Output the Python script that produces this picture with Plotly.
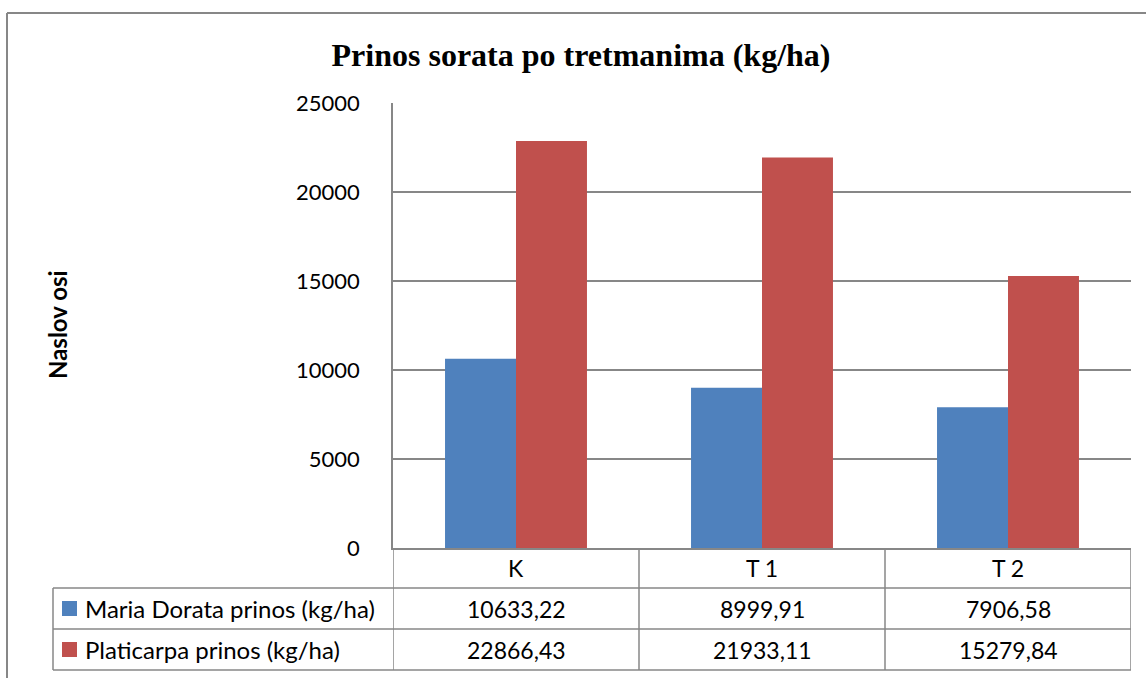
import plotly.graph_objects as go

# data
categories = ["K", "T 1", "T 2"]
series_names = ["Maria Dorata prinos (kg/ha)", "Platicarpa prinos (kg/ha)"]
maria_dorata = [10633.22, 8999.91, 7906.58]
platicarpa = [22866.43, 21933.11, 15279.84]
series_values = [maria_dorata, platicarpa]
colors = ["#4F81BD", "#C0504D"]

W, H = 1146, 678
# plot area edges in pixels
L, R, T, B = 393, 1131, 103, 548
GRID = "#878787"
FONT = "Lato, Calibri, sans-serif"


def px(x):
    return (x - L) / (R - L)


def py(y):
    return (B - y) / (B - T)


fig = go.Figure()
for name, vals, col in zip(series_names, series_values, colors):
    fig.add_trace(go.Bar(x=categories, y=vals, name=name, marker_color=col,
                         marker_line_width=0))

shapes = []
annotations = []

# outer chart border (top and left only, the rest is cut off)
shapes.append(dict(type="line", xref="paper", yref="paper", x0=px(7), x1=px(W + 5),
                   y0=py(13), y1=py(13), line=dict(color=GRID, width=2)))
shapes.append(dict(type="line", xref="paper", yref="paper", x0=px(7), x1=px(7),
                   y0=py(13), y1=py(H + 5), line=dict(color=GRID, width=2)))

# data table below the chart
row_lines = [588, 629, 670]
for yy in row_lines:
    shapes.append(dict(type="line", xref="paper", yref="paper", x0=px(53), x1=1,
                       y0=py(yy), y1=py(yy), line=dict(color=GRID, width=1.5)))
shapes.append(dict(type="line", xref="paper", yref="paper", x0=px(53), x1=px(53),
                   y0=py(588), y1=py(670), line=dict(color=GRID, width=1.5)))
for i in range(len(categories) + 1):
    shapes.append(dict(type="line", xref="x", yref="paper", x0=i - 0.5, x1=i - 0.5,
                       y0=0, y1=py(670), line=dict(color=GRID, width=1.5)))

# category header row
for i, c in enumerate(categories):
    annotations.append(dict(x=c, y=py(568), xref="x", yref="paper", text=c, yanchor="middle",
                            showarrow=False, font=dict(family=FONT, size=23, color="black")))

# series rows
row_centers = [608.5, 649.5]
for name, vals, col, yc in zip(series_names, series_values, colors, row_centers):
    shapes.append(dict(type="rect", xref="paper", yref="paper", x0=px(62), x1=px(77),
                       y0=py(yc - 7.5), y1=py(yc + 7.5), fillcolor=col, line_width=0))
    annotations.append(dict(x=px(83), y=py(yc), xref="paper", yref="paper", text=name,
                            xanchor="left", yanchor="middle", showarrow=False,
                            font=dict(family=FONT, size=24, color="black")))
    for c, v in zip(categories, vals):
        annotations.append(dict(x=c, y=py(yc), xref="x", yref="paper", yanchor="middle",
                                text=f"{v:.2f}".replace(".", ","), showarrow=False,
                                font=dict(family=FONT, size=23, color="black")))

# y axis title
annotations.append(dict(x=px(57), y=py(325), xref="paper", yref="paper", text="<b>Naslov osi</b>",
                        textangle=-90, showarrow=False, xanchor="center", yanchor="middle",
                        font=dict(family=FONT, size=24, color="black")))

fig.update_layout(
    width=W,
    height=H,
    autosize=False,
    margin=dict(l=L, r=W - R, t=T, b=H - B, pad=0),
    paper_bgcolor="white",
    plot_bgcolor="white",
    showlegend=False,
    bargap=0.423,
    bargroupgap=0,
    barmode="group",
    title=dict(text="<b>Prinos sorata po tretmanima (kg/ha)</b>", x=581 / W, xanchor="center",
               y=1 - 55 / H, yanchor="middle",
               font=dict(family="Liberation Serif, Times New Roman, serif", size=32, color="black")),
    shapes=shapes,
    annotations=annotations,
)
fig.update_xaxes(type="category", range=[-0.5, 2.5], showticklabels=False, showgrid=False,
                 showline=True, linecolor=GRID, linewidth=1.5, ticks="", zeroline=False)
fig.update_yaxes(range=[0, 25000], dtick=5000, showgrid=True, gridcolor=GRID, gridwidth=1.5,
                 showline=True, linecolor=GRID, linewidth=1.5, ticks="", zeroline=False,
                 ticklabelstandoff=27, tickformat="d",
                 tickfont=dict(family=FONT, size=22, color="black"))

# page has a default body margin, drop it so the chart sits at 0,0
fig.write_html("out.html", config={"displayModeBar": False},
               post_script="document.body.style.margin='0px';")
